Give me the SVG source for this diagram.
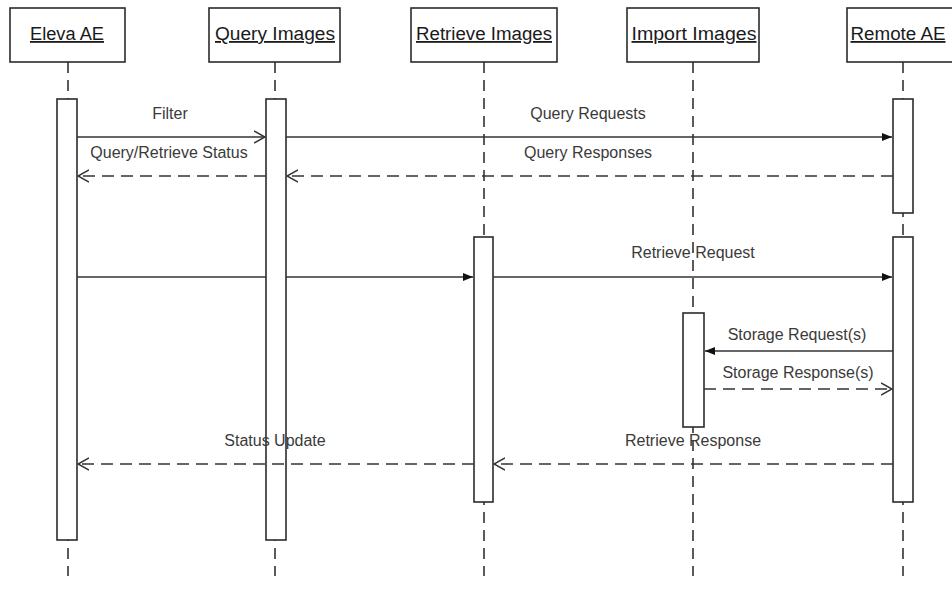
<svg xmlns="http://www.w3.org/2000/svg" width="952" height="599" viewBox="0 0 952 599">
<style>
.hdr{fill:#fff;stroke:#2b2b2b;stroke-width:1.6}
.htx{font-family:"Liberation Sans",Arial,sans-serif;font-size:18px;fill:#1a1a1a;text-anchor:middle;text-decoration:underline}
.life{stroke:#333;stroke-width:1.6;stroke-dasharray:11 7;fill:none}
.bar{fill:#fff;stroke:#2b2b2b;stroke-width:1.6}
.msg{stroke:#333;stroke-width:1.5;fill:none}
.ret{stroke:#333;stroke-width:1.5;fill:none;stroke-dasharray:12 7}
.lbl{font-family:"Liberation Sans",Arial,sans-serif;font-size:16px;fill:#3a3a3a;text-anchor:middle}
</style>
<defs>
<marker id="fill" viewBox="0 0 10 8" refX="10" refY="4" markerWidth="10" markerHeight="8" markerUnits="userSpaceOnUse" orient="auto">
<path d="M0 0 L10 4 L0 8 Z" fill="#111"/>
</marker>
<marker id="open" viewBox="0 0 12 14" refX="11" refY="7" markerWidth="12" markerHeight="14" markerUnits="userSpaceOnUse" orient="auto">
<path d="M0 1 L11 7 L0 13" fill="none" stroke="#333" stroke-width="1.5"/>
</marker>
</defs>
<rect width="952" height="599" fill="#fff"/>

<g id="eleva">
<line class="life" x1="68" y1="62" x2="68" y2="576"/>
<rect class="hdr" x="10" y="8" width="115" height="54"/>
<text class="htx" x="67" y="40" textLength="74" lengthAdjust="spacingAndGlyphs">Eleva AE</text>
<rect class="bar" x="57" y="99" width="20" height="441"/>
</g>

<g id="query">
<line class="life" x1="275" y1="62" x2="275" y2="576"/>
<rect class="hdr" x="209" y="8" width="131" height="54"/>
<text class="htx" x="275" y="40" textLength="120" lengthAdjust="spacingAndGlyphs">Query Images</text>
<rect class="bar" x="266" y="99" width="20" height="441"/>
</g>

<g id="retrieve">
<line class="life" x1="484" y1="62" x2="484" y2="576"/>
<rect class="hdr" x="411" y="8" width="146" height="54"/>
<text class="htx" x="484" y="40" textLength="136" lengthAdjust="spacingAndGlyphs">Retrieve Images</text>
<rect class="bar" x="474" y="237" width="19" height="265"/>
</g>

<g id="import">
<line class="life" x1="693" y1="62" x2="693" y2="576"/>
<rect class="hdr" x="627" y="8" width="132" height="54"/>
<text class="htx" x="694" y="40" textLength="125" lengthAdjust="spacingAndGlyphs">Import Images</text>
<rect class="bar" x="683" y="313" width="21" height="114"/>
</g>

<g id="remote">
<line class="life" x1="903" y1="62" x2="903" y2="576"/>
<rect class="hdr" x="847" y="8" width="112" height="54"/>
<text class="htx" x="898" y="40" textLength="95" lengthAdjust="spacingAndGlyphs">Remote AE</text>
<rect class="bar" x="893" y="99" width="20" height="114"/>
<rect class="bar" x="893" y="237" width="20" height="265"/>
</g>

<g id="connectors">
<line class="msg" x1="77" y1="137" x2="265" y2="137" marker-end="url(#open)"/>
<text class="lbl" x="170" y="119">Filter</text>
<line class="msg" x1="286" y1="137" x2="892" y2="137" marker-end="url(#fill)"/>
<text class="lbl" x="588" y="119">Query Requests</text>
<line class="ret" x1="893" y1="176" x2="287" y2="176" marker-end="url(#open)"/>
<text class="lbl" x="588" y="158">Query Responses</text>
<line class="ret" x1="266" y1="176" x2="78" y2="176" marker-end="url(#open)"/>
<text class="lbl" x="169" y="158">Query/Retrieve Status</text>
<line class="msg" x1="77" y1="277" x2="266" y2="277"/>
<line class="msg" x1="286" y1="277" x2="473" y2="277" marker-end="url(#fill)"/>
<line class="msg" x1="493" y1="277" x2="892" y2="277" marker-end="url(#fill)"/>
<text class="lbl" x="693" y="258">Retrieve Request</text>
<line class="msg" x1="893" y1="351" x2="705" y2="351" marker-end="url(#fill)"/>
<text class="lbl" x="797" y="340">Storage Request(s)</text>
<line class="ret" x1="704" y1="389" x2="892" y2="389" marker-end="url(#open)"/>
<text class="lbl" x="798" y="378">Storage Response(s)</text>
<line class="ret" x1="893" y1="464" x2="494" y2="464" marker-end="url(#open)"/>
<text class="lbl" x="693" y="446">Retrieve Response</text>
<line class="ret" x1="474" y1="464" x2="78" y2="464" marker-end="url(#open)"/>
<text class="lbl" x="275" y="446">Status Update</text>
</g>
</svg>
